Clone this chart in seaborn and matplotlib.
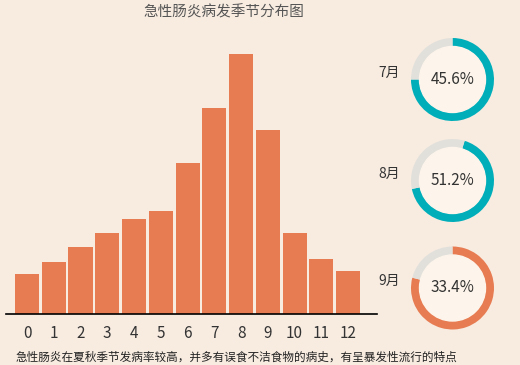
import numpy as np
import pandas as pd
import matplotlib.pyplot as plt
from matplotlib.patches import Circle
import seaborn as sns

# bar chart data (relative incidence per month)
months = ['0', '1', '2', '3', '4', '5', '6', '7', '8', '9', '10', '11', '12']
cases = [40, 52, 67, 81, 95, 103, 151, 206, 260, 184, 81, 55, 43]

# ring data
ring_labels = ['7月', '8月', '9月']
ring_pct = [45.6, 51.2, 33.4]
ring_fill = [0.75, 0.67, 0.79]
ring_start = [0, 17, 0]

title = '急性肠炎病发季节分布图'
caption = '急性肠炎在夏秋季节发病率较高，并多有误食不洁食物的病史，有呈暴发性流行的特点'

bg = '#F8ECE1'
bar_color = '#E77C52'
teal = '#00AEBA'
ring_colors = [teal, teal, bar_color]
gray = '#E2E0DB'
inner = '#FDF5EB'

sns.set_theme(style='white')
plt.rcParams['font.family'] = ['Noto Sans CJK SC', 'DejaVu Sans']

W, H = 520, 365
fig = plt.figure(figsize=(W / 100, H / 100), dpi=100, facecolor=bg)

# main bar axes, placed in pixel coordinates
x0, x1, ybase, ytop = 6, 377, 314, 40
ax = fig.add_axes([x0 / W, (H - ybase) / H, (x1 - x0) / W, (ybase - ytop) / H])
ax.set_facecolor(bg)

df = pd.DataFrame({'month': months, 'cases': cases})
sns.barplot(data=df, x='month', y='cases', color=bar_color, saturation=1,
            width=0.9, linewidth=0, ax=ax)
ax.set_ylim(0, 274)
ax.set_xlim(-0.785, 13.08)
for s in ['top', 'left', 'right']:
    ax.spines[s].set_visible(False)
ax.spines['bottom'].set_color('black')
ax.spines['bottom'].set_linewidth(1.2)
ax.spines['bottom'].set_zorder(5)
ax.set_yticks([])
ax.set_xlabel('')
ax.set_ylabel('')
ax.tick_params(axis='x', length=0, pad=8, labelsize=11, labelcolor='#333333')

# rings
centers_y = [79.5, 180.5, 288]
cx, r = 452.5, 41.5
for lab, pct, frac, st, cy, col in zip(ring_labels, ring_pct, ring_fill,
                                       ring_start, centers_y, ring_colors):
    rax = fig.add_axes([(cx - r) / W, (H - cy - r) / H, 2 * r / W, 2 * r / H])
    rax.pie([frac, 1 - frac], colors=[col, gray], startangle=90 - st,
            counterclock=False, radius=1,
            wedgeprops=dict(width=8.5 / r, edgecolor='none'))
    rax.add_patch(Circle((0, 0), 1 - 8.5 / r, color=inner, zorder=3))
    rax.text(0, 0, f'{pct}%', ha='center', va='center', fontsize=11,
             color='#333333', zorder=4)
    rax.set_xlim(-1, 1)
    rax.set_ylim(-1, 1)
    rax.set_aspect('equal')
    rax.axis('off')
    fig.text(400 / W, 1 - (cy - 7) / H, lab, ha='right', va='center',
             fontsize=10, color='#333333')

fig.text(224 / W, 1 - 12 / H, title, ha='center', va='center',
         fontsize=10.5, color='#555555')
fig.text(16 / W, 1 - 357 / H, caption, ha='left', va='center',
         fontsize=8.4, color='#222222')

plt.savefig('out.png', dpi=100, facecolor=bg)
